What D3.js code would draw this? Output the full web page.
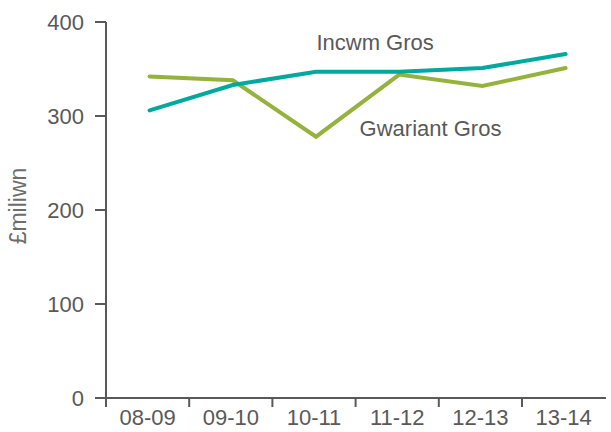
<!DOCTYPE html>
<html>
<head>
<meta charset="utf-8">
<script src="https://cdn.jsdelivr.net/npm/d3@7"></script>
<style>
  body { margin: 0; background: #fff; }
  text { font-family: "Liberation Sans", Arial, sans-serif; fill: #595959; }
</style>
</head>
<body>
<div id="canvas"></div>
<script>
const years = ["08-09", "09-10", "10-11", "11-12", "12-13", "13-14"];
const incwm = [306, 333, 347, 347, 351, 366];
const gwariant = [342, 338, 278, 344, 332, 351];
const yTicks = [0, 100, 200, 300, 400];

const width = 611;
const height = 432;
const margin = { top: 22, left: 106, bottom: 34, right: 5 };
const iwidth = width - margin.left - margin.right;
const iheight = height - margin.top - margin.bottom;

const svg = d3.select("#canvas").append("svg")
    .attr("width", width)
    .attr("height", height);

const g = svg.append("g").attr("transform", `translate(${margin.left},${margin.top})`);

const x = d3.scaleBand().domain(years).range([0, 83.2 * years.length]);
const y = d3.scaleLinear().domain([0, 400]).range([iheight, 0]);

// x axis: line to right edge, ticks at band boundaries
const xg = g.append("g").attr("transform", `translate(0,${iheight})`);
xg.append("line")
    .attr("x1", -11).attr("x2", iwidth)
    .attr("stroke", "#595959").attr("stroke-width", 2);
xg.selectAll(".tk").data(years).enter().append("line")
    .attr("x1", d => x(d)).attr("x2", d => x(d))
    .attr("y1", 0).attr("y2", 9)
    .attr("stroke", "#595959").attr("stroke-width", 2);
xg.selectAll(".lbl").data(years).enter().append("text")
    .attr("x", d => x(d) + x.bandwidth() / 2)
    .attr("y", 27)
    .attr("text-anchor", "middle")
    .style("font-size", "22px")
    .text(d => d);

// y axis
const yg = g.append("g");
yg.append("line")
    .attr("y1", y(400)).attr("y2", iheight + 9)
    .attr("stroke", "#595959").attr("stroke-width", 2);
yg.selectAll(".tk").data(yTicks).enter().append("line")
    .attr("x1", -11).attr("x2", 0)
    .attr("y1", d => y(d)).attr("y2", d => y(d))
    .attr("stroke", "#595959").attr("stroke-width", 2);
yg.selectAll(".lbl").data(yTicks).enter().append("text")
    .attr("x", -22)
    .attr("y", d => y(d))
    .attr("dy", "0.35em")
    .attr("text-anchor", "end")
    .style("font-size", "22px")
    .text(d => d);

svg.append("text")
    .attr("transform", "translate(26,206) rotate(-90)")
    .attr("text-anchor", "middle")
    .style("font-size", "23px")
    .style("fill", "#6d6d6d")
    .text("£miliwn");

const line = d3.line()
    .x((d, i) => x(years[i]) + x.bandwidth() / 2 + 2)
    .y(d => y(d));

g.append("path").datum(gwariant)
    .attr("fill", "none")
    .attr("stroke", "#94b23c")
    .attr("stroke-width", 4)
    .attr("stroke-linecap", "round")
    .attr("d", line);

g.append("path").datum(incwm)
    .attr("fill", "none")
    .attr("stroke", "#00a99d")
    .attr("stroke-width", 4)
    .attr("stroke-linecap", "round")
    .attr("d", line);

g.append("text")
    .attr("x", x("10-11") + 44)
    .attr("y", 28)
    .style("font-size", "22px")
    .text("Incwm Gros");

g.append("text")
    .attr("x", x("11-12") + 4)
    .attr("y", 114)
    .style("font-size", "22px")
    .text("Gwariant Gros");
</script>
</body>
</html>
